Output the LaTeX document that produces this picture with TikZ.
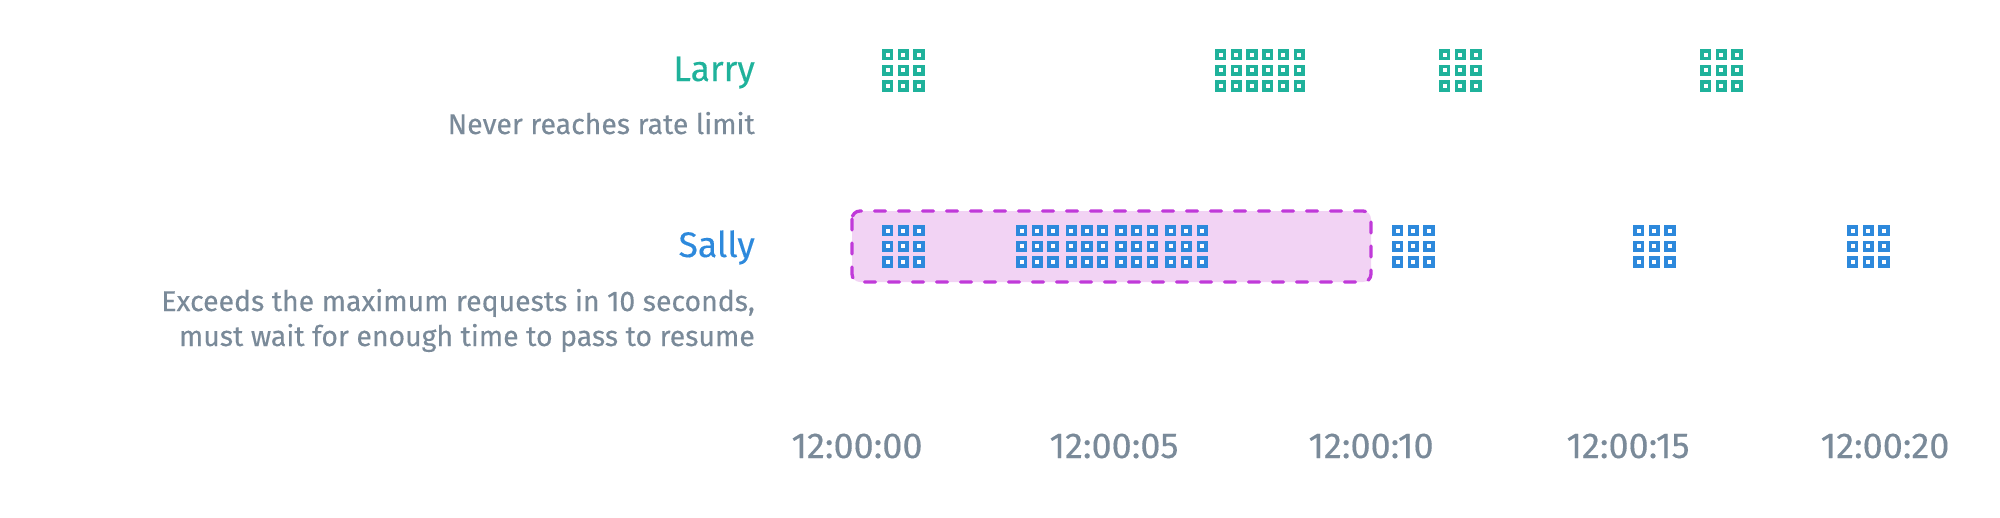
\documentclass[tikz,border=0pt]{standalone}
\usepackage{fontspec}
\setmainfont{Fira Sans}[FakeBold=0.3]
\definecolor{larry}{HTML}{1FB29B}
\definecolor{sally}{HTML}{2D89DC}
\definecolor{txtgray}{HTML}{7A8A99}
\definecolor{boxfill}{HTML}{F2D3F4}
\definecolor{boxline}{HTML}{C03AD9}
\newcommand\reqgrid[4]{%
  \foreach \cc in {1,...,#3}{\foreach \rr in {0,1,2}{
    \fill[#4] ({#1+(\cc-1)*15.7},{#2+\rr*15.7}) rectangle ++(11.3,11.3);
    \fill[white] ({#1+(\cc-1)*15.7+3.65},{#2+\rr*15.7+3.65}) rectangle ++(4,4);
  }}}
\tikzset{
  lbl/.style={inner sep=0pt, anchor=base east},
  personlbl/.style={lbl, font=\fontsize{35.5}{40}\selectfont},
  notelbl/.style={lbl, text=txtgray, font=\fontsize{28.4}{34}\selectfont},
  timelbl/.style={inner sep=0pt, anchor=base, text=txtgray, font=\fontsize{36}{42}\selectfont},
  window/.style={fill=boxfill, draw=boxline, line width=3.3pt, dash pattern=on 11pt off 13pt, line cap=round, rounded corners=8pt}
}
\begin{document}
\begin{tikzpicture}[x=1pt, y=-1pt]
\useasboundingbox (0,0) rectangle (2000,517);
% labels
\node[personlbl, text=larry] (larry) at (755,81) {Larry};
\node[notelbl] (larrynote) at (755,134) {Never reaches rate limit};
\node[personlbl, text=sally] (sally) at (755,257) {Sally};
\node[notelbl] (sallynote1) at (755,311) {Exceeds the maximum requests in 10 seconds,};
\node[notelbl] (sallynote2) at (755,346) {must wait for enough time to pass to resume};
% window
\draw[window] (852,211) rectangle (1371,282);
% Larry requests
\reqgrid{882}{49}{3}{larry}
\reqgrid{1215}{49}{6}{larry}
\reqgrid{1439}{49}{3}{larry}
\reqgrid{1700}{49}{3}{larry}
% Sally requests
\reqgrid{882}{225}{3}{sally}
\reqgrid{1016}{225}{3}{sally}
\reqgrid{1065.7}{225}{3}{sally}
\reqgrid{1115.4}{225}{3}{sally}
\reqgrid{1165.1}{225}{3}{sally}
\reqgrid{1392}{225}{3}{sally}
\reqgrid{1633}{225}{3}{sally}
\reqgrid{1847}{225}{3}{sally}
% time axis labels
\node[timelbl] (t0) at (857,458) {12:00:00};
\node[timelbl] (t5) at (1114,458) {12:00:05};
\node[timelbl] (t10) at (1371,458) {12:00:10};
\node[timelbl] (t15) at (1628,458) {12:00:15};
\node[timelbl] (t20) at (1885,458) {12:00:20};
\end{tikzpicture}
\end{document}
